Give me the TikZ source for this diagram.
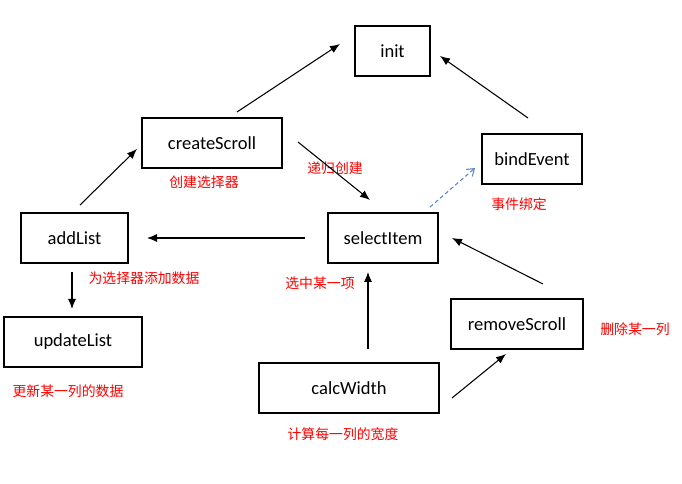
\documentclass[tikz,border=0pt]{standalone}
\usepackage{fontspec}
\setmainfont{Carlito}
\newfontfamily\cjk{Noto Sans CJK SC}
\usetikzlibrary{arrows.meta}
\definecolor{lblred}{RGB}{255,0,0}
\definecolor{dashblue}{RGB}{91,135,198}
\begin{document}
\begin{tikzpicture}[x=0.75pt,y=-0.75pt,
  box/.style={draw=black,line width=0.9pt,inner sep=0pt,outer sep=0pt,minimum height=37.5pt,font=\fontsize{13.9}{16}\selectfont},
  lbl/.style={text=lblred,inner sep=0pt,font=\cjk\fontsize{10.4}{12}\selectfont},
  conn/.style={draw=black,line width=0.8pt,-{Latex[length=7.5pt,width=6pt]}},
  dconn/.style={draw=dashblue,line width=0.8pt,dashed,dash pattern=on 3pt off 2pt,-{Straight Barb[length=5pt,width=7pt]}}]
\useasboundingbox (0,0) rectangle (682,484);
% boxes
\node[box,minimum width=56.25pt] (init) at (392.5,51) {init};
\node[box,minimum width=105pt] (createScroll) at (212,143) {createScroll};
\node[box,minimum width=75pt] (bindEvent) at (532,159) {bindEvent};
\node[box,minimum width=80.25pt] (addList) at (74.5,238) {addList};
\node[box,minimum width=82.5pt] (selectItem) at (383,238) {selectItem};
\node[box,minimum width=103.5pt] (updateList) at (73,342) {updateList};
\node[box,minimum width=99pt] (removeScroll) at (517,324) {removeScroll};
\node[box,minimum width=135pt] (calcWidth) at (349,388) {calcWidth};
% labels
\node[lbl] (l1) at (204,182) {创建选择器};
\node[lbl] (l2) at (335,168) {递归创建};
\node[lbl] (l3) at (519,204) {事件绑定};
\node[lbl] (l4) at (144,278) {为选择器添加数据};
\node[lbl] (l5) at (320,283) {选中某一项};
\node[lbl] (l6) at (68,391) {更新某一列的数据};
\node[lbl] (l7) at (635,329) {删除某一列};
\node[lbl] (l8) at (343,434) {计算每一列的宽度};
% connector end points
\coordinate (csI1) at (237,112); \coordinate (csI2) at (340,44);
\coordinate (beI1) at (528,118); \coordinate (beI2) at (440,56);
\coordinate (csS1) at (298,142); \coordinate (csS2) at (370,200);
\coordinate (siB1) at (430,207); \coordinate (siB2) at (475,168);
\coordinate (siA1) at (305,238); \coordinate (siA2) at (147,238);
\coordinate (alU1) at (72,272); \coordinate (alU2) at (72,309);
\coordinate (alC1) at (80,205); \coordinate (alC2) at (137,149);
\coordinate (cwS1) at (368,349); \coordinate (cwS2) at (368,272);
\coordinate (cwR1) at (452,398); \coordinate (cwR2) at (506,354);
\coordinate (rsS1) at (543,284); \coordinate (rsS2) at (452,238);
% connectors
\draw[conn] (csI1) -- (csI2);
\draw[conn] (beI1) -- (beI2);
\draw[conn] (csS1) -- (csS2);
\draw[dconn] (siB1) -- (siB2);
\draw[conn] (siA1) -- (siA2);
\draw[conn] (alU1) -- (alU2);
\draw[conn] (alC1) -- (alC2);
\draw[conn] (cwS1) -- (cwS2);
\draw[conn] (cwR1) -- (cwR2);
\draw[conn] (rsS1) -- (rsS2);
\end{tikzpicture}
\end{document}
